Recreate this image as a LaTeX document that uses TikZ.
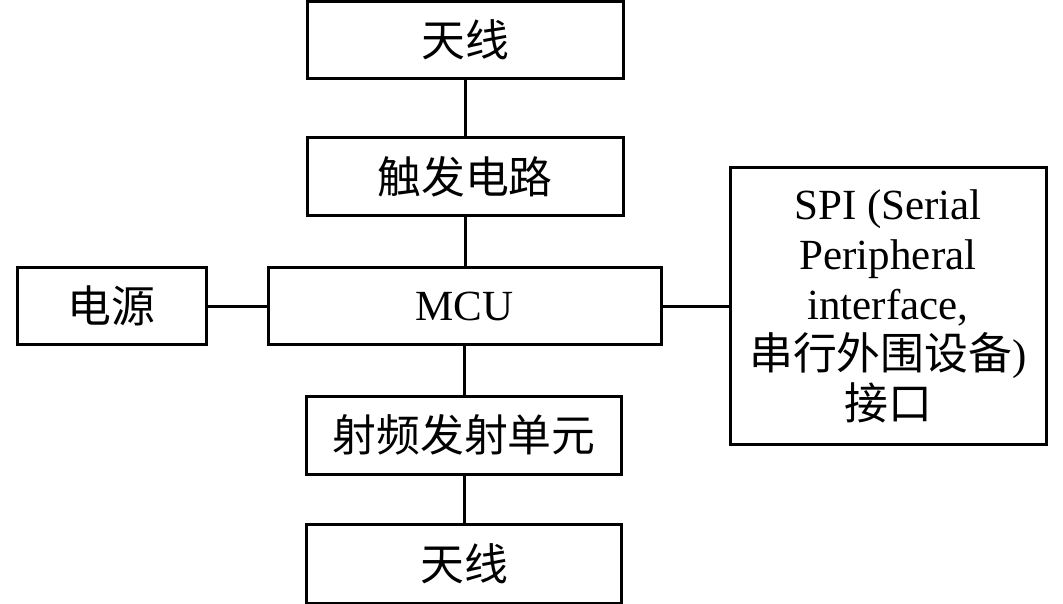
\documentclass[tikz,border=0pt]{standalone}
\usepackage{fontspec}
\setmainfont{Liberation Serif}
\newfontfamily\cjk{Noto Sans CJK SC}[Scale=1.02]
\begin{document}
\begin{tikzpicture}[x=1pt,y=-1pt,
  blk/.style={draw=black,line width=3pt,inner sep=0pt,align=center,
    font=\fontsize{43}{50}\selectfont},
  conn/.style={line width=3pt}]
\useasboundingbox (0,0) rectangle (1063,604);
\node[blk,minimum width=316pt,minimum height=77pt] (ant1) at (465,40) {\cjk 天线};
\node[blk,minimum width=316pt,minimum height=78pt] (trig) at (465,177) {\cjk 触发电路};
\node[blk,minimum width=393pt,minimum height=77pt] (mcu) at (464.5,306) {MCU};
\node[blk,minimum width=189pt,minimum height=77pt] (pwr) at (111.5,306) {\cjk 电源};
\node[blk,minimum width=316pt,minimum height=276pt] (spi) at (888,306)
  {SPI (Serial\\Peripheral\\interface,\\{\cjk 串行外围设备})\\{\cjk 接口}};
\node[blk,minimum width=315pt,minimum height=78pt] (rf) at (464,435) {\cjk 射频发射单元};
\node[blk,minimum width=315pt,minimum height=79pt] (ant2) at (464,563.5) {\cjk 天线};
\draw[conn] (ant1.south) -- (trig.north);
\draw[conn] (trig.south) -- (trig.south |- mcu.north);
\draw[conn] (rf.north |- mcu.south) -- (rf.north);
\draw[conn] (rf.south) -- (ant2.north);
\draw[conn] (pwr.east) -- (mcu.west);
\draw[conn] (mcu.east) -- (spi.west);
\end{tikzpicture}
\end{document}
